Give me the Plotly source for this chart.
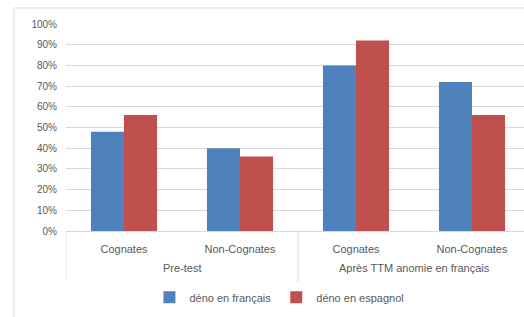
import plotly.graph_objects as go

categories = ["Cognates", "Non-Cognates", "Cognates", "Non-Cognates"]
groups = ["Pre-test", "Après TTM anomie en français"]
fr_values = [0.48, 0.40, 0.80, 0.72]
es_values = [0.56, 0.36, 0.92, 0.56]
series_names = ["déno en français", "déno en espagnol"]
y_ticks = [0, 0.1, 0.2, 0.3, 0.4, 0.5, 0.6, 0.7, 0.8, 0.9, 1.0]

xpos = list(range(len(categories)))
FONT = "Liberation Sans"
GRAY = "#595959"
LINE = "#D9D9D9"

fig = go.Figure()
fig.add_trace(go.Bar(x=xpos, y=fr_values, name=series_names[0], marker=dict(color="#4F81BD", line=dict(width=0))))
fig.add_trace(go.Bar(x=xpos, y=es_values, name=series_names[1], marker=dict(color="#C0504D", line=dict(width=0))))

fig.update_layout(
    width=524, height=317,
    margin=dict(l=66, r=0, t=24, b=86),
    paper_bgcolor="white", plot_bgcolor="white",
    barmode="group", bargap=0.43, bargroupgap=0,
    font=dict(family=FONT, size=11, color=GRAY),
    showlegend=True,
    legend=dict(orientation="h", x=0.466, xanchor="center", y=-0.32, yanchor="middle",
                font=dict(size=11, color=GRAY), itemwidth=30, tracegroupgap=0),
)
fig.update_xaxes(
    range=[-0.5, -0.5 + 458 / 116], tickmode="array", tickvals=xpos, ticktext=categories,
    showgrid=False, showline=True, linecolor=LINE, linewidth=1, ticks="",
    ticklabelstandoff=8, tickfont=dict(size=11, color=GRAY), zeroline=False,
)
fig.update_yaxes(
    range=[0, 1], tickmode="array", tickvals=y_ticks, tickformat=".0%",
    showgrid=True, gridcolor=LINE, gridwidth=1, zeroline=False, showline=False,
    ticks="", ticklabelstandoff=8, tickfont=dict(size=10, color=GRAY),
)

# group labels
for i, g in enumerate(groups):
    fig.add_annotation(x=2 * i + 0.5, xref="x", y=-0.18, yref="paper", text=g, showarrow=False,
                       font=dict(size=11, color=GRAY), yanchor="middle")
# dividers
for xv in [-0.5, 1.5]:
    fig.add_shape(type="line", xref="x", yref="paper", x0=xv, x1=xv, y0=0, y1=-0.246,
                  line=dict(color=LINE, width=1))
# outer chart border
fig.add_shape(type="rect", xref="paper", yref="paper", x0=-0.1135, x1=1.2, y0=-0.6, y1=1.0773,
              line=dict(color=LINE, width=1), layer="below")

fig.write_html("out.html", config={"displayModeBar": False},
               post_script="document.body.style.margin='0';document.body.style.overflow='hidden';")
